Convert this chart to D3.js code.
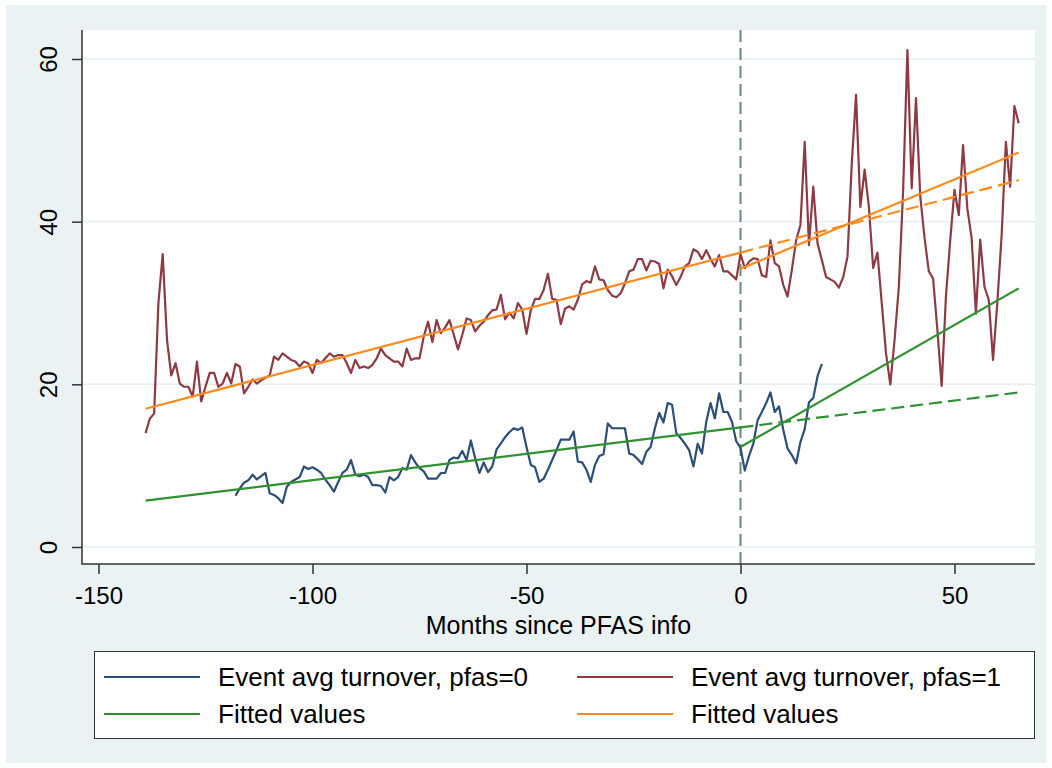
<!DOCTYPE html>
<html>
<head>
<meta charset="utf-8">
<script src="https://cdn.jsdelivr.net/npm/d3@7"></script>
<style>
body { margin: 0; background: #ffffff; }
text { font-family: "Liberation Sans", Arial, sans-serif; fill: #000000; }
</style>
</head>
<body>
<svg id="chart" width="1052" height="768"></svg>
<script>
"use strict";

//
//	Monthly event averages
//
var pfas0StartMonth = -118;
var turnoverPfas0 = [
	6.3, 7.2, 7.9, 8.2, 8.9, 8.3, 8.7, 9.1, 6.6, 6.4,
	6.0, 5.4, 7.4, 8.0, 8.3, 8.6, 9.9, 9.6, 9.8, 9.5,
	9.1, 8.3, 7.6, 6.8, 8.0, 9.1, 9.5, 10.7, 8.9, 8.7,
	8.9, 8.6, 7.6, 7.6, 7.5, 6.7, 8.6, 8.2, 8.6, 9.7,
	9.5, 11.3, 10.4, 9.7, 9.3, 8.4, 8.4, 8.4, 9.1, 9.1,
	10.7, 11.0, 10.9, 11.8, 10.7, 13.1, 10.9, 9.1, 10.4, 9.2,
	9.9, 12.0, 12.7, 13.5, 14.1, 14.6, 14.4, 14.7, 12.3, 10.1,
	9.8, 8.0, 8.4, 9.5, 10.7, 11.9, 13.2, 13.2, 13.2, 14.2,
	10.5, 10.4, 9.5, 8.0, 10.1, 11.2, 11.4, 15.2, 14.6, 14.6,
	14.6, 14.6, 11.5, 11.3, 10.8, 10.2, 11.7, 12.3, 14.6, 16.5,
	15.3, 17.7, 17.5, 14.0, 13.4, 12.7, 11.9, 9.9, 12.7, 11.5,
	15.4, 17.7, 15.8, 18.9, 16.6, 16.6, 15.4, 13.0, 12.2, 9.4,
	11.2, 12.7, 15.6, 16.6, 17.7, 19.0, 16.6, 17.3, 14.4, 12.1,
	11.3, 10.3, 12.9, 14.5, 17.8, 18.3, 21.0, 22.5
];

var pfas1StartMonth = -139;
var turnoverPfas1 = [
	14.0, 15.8, 16.4, 30.0, 36.0, 25.5, 21.1, 22.6, 20.1, 19.7,
	19.7, 18.5, 22.8, 17.9, 19.7, 21.4, 21.4, 19.7, 20.1, 21.4,
	20.1, 22.5, 22.2, 18.9, 19.7, 20.6, 20.1, 20.5, 20.8, 21.1,
	23.4, 23.0, 23.8, 23.4, 23.0,
	22.8, 22.2, 22.8, 22.6, 21.4, 23.0, 22.6, 23.2, 23.8, 23.4,
	23.6, 23.6, 22.6, 21.4, 23.0, 22.0, 22.2, 22.0, 22.4, 23.2,
	24.4, 23.6, 23.2, 22.8, 22.8, 22.2, 24.4, 23.0, 23.2, 23.2,
	25.9, 27.7, 25.2, 27.9,
	26.3, 27.0, 27.9, 26.1, 24.3, 26.1, 28.1, 27.9, 26.5, 27.2,
	27.7, 28.5, 29.1, 29.2, 31.0, 28.0, 28.8, 28.1, 30.0, 29.2,
	26.2, 29.1, 30.5, 30.5, 31.6, 33.6, 30.5, 30.4, 27.4, 29.3,
	29.6, 29.2, 30.4, 32.3, 32.7, 32.5, 34.5, 32.9, 32.8, 31.6,
	30.9, 30.7, 31.2, 32.4, 33.9, 34.1, 35.4, 35.4, 34.0, 35.2,
	35.1, 34.8, 31.8, 34.1, 33.3, 32.2, 33.2, 34.5, 34.9, 36.6,
	36.3, 35.4, 36.5, 35.4, 34.5, 35.9, 33.9, 33.9, 33.4, 32.9,
	36.0,
	34.3, 35.1, 35.5, 35.4, 33.4, 33.2, 37.7, 34.9, 34.5, 32.2,
	30.8, 34.1, 37.7, 39.6, 49.8, 37.1, 44.3, 37.3, 35.3, 33.2,
	32.9, 32.6, 31.9, 33.2, 35.7, 47.2, 55.6, 41.8, 46.4, 41.8,
	34.3, 36.2, 30.0, 23.8, 20.0, 25.5, 32.0, 43.9, 61.1, 44.1,
	55.2, 43.1, 38.0, 33.9, 33.0, 26.7, 19.8, 30.8, 37.7, 43.9,
	40.8, 49.4, 41.6, 38.0, 28.7, 37.8, 32.0, 30.4, 23.0, 30.0,
	38.2, 49.8, 44.3, 54.2, 52.1
];

//
//	Linear fits: end points before and after the event, and the pre-trend carried on
//
var fitPreMonths = [-139, 0];
var fitPostMonths = [0, 65];
var fitPfas0Pre = [5.7, 14.7];
var fitPfas0Trend = [14.7, 19.0];
var fitPfas0Post = [12.3, 31.8];
var fitPfas1Pre = [17.0, 36.2];
var fitPfas1Trend = [36.2, 45.1];
var fitPfas1Post = [34.2, 48.5];

var xTicks = [-150, -100, -50, 0, 50];
var yTicks = [0, 20, 40, 60];
var eventMonth = 0;
var xTitle = "Months since PFAS info";
var legendLabels = ["Event avg turnover, pfas=0", "Event avg turnover, pfas=1", "Fitted values", "Fitted values"];

var COLOR_PFAS0 = "#2b4f78";
var COLOR_PFAS1 = "#8e3a43";
var COLOR_FIT0 = "#2f9230";
var COLOR_FIT1 = "#ff8a1c";

var svg = d3.select("#chart");

var plot = {left: 82, right: 1035, top: 30, bottom: 564};

var x = d3.scaleLinear().domain([-150, 50]).range([98.5, 954.5]);
var y = d3.scaleLinear().domain([0, 60]).range([547, 59]);

//	plain hyphen for negatives, as in the original
function plainNumber(d){ return String(d); }

//	outer frame and plot region
svg.append("rect").attr("x", 6).attr("y", 5).attr("width", 1040).attr("height", 758).attr("fill", "#eaf2f3");
svg.append("rect").attr("x", plot.left).attr("y", plot.top)
	.attr("width", plot.right - plot.left).attr("height", plot.bottom - plot.top).attr("fill", "#ffffff");

//	horizontal grid
svg.append("g").selectAll("line").data(yTicks).enter().append("line")
	.attr("x1", plot.left).attr("x2", plot.right)
	.attr("y1", function(d){ return y(d); }).attr("y2", function(d){ return y(d); })
	.attr("stroke", "#e6efef").attr("stroke-width", 1.5);

//	event line
svg.append("line")
	.attr("x1", x(eventMonth)).attr("x2", x(eventMonth))
	.attr("y1", plot.top).attr("y2", plot.bottom)
	.attr("stroke", "#6a8a7d").attr("stroke-width", 2).attr("stroke-dasharray", "12,6");

//
//	series lines
//
function seriesLine(start){
	return d3.line()
		.x(function(d, i){ return x(start + i); })
		.y(function(d){ return y(d); });
}

function drawPath(values, start, color){
	svg.append("path")
		.attr("d", seriesLine(start)(values))
		.attr("fill", "none")
		.attr("stroke", color)
		.attr("stroke-width", 2.2)
		.attr("stroke-linejoin", "round");
}

function drawFit(months, values, color, dash){
	var pts = months.map(function(m, i){ return [m, values[i]]; });
	var p = svg.append("path")
		.attr("d", d3.line().x(function(d){ return x(d[0]); }).y(function(d){ return y(d[1]); })(pts))
		.attr("fill", "none")
		.attr("stroke", color)
		.attr("stroke-width", 2.2);
	if(dash){ p.attr("stroke-dasharray", dash); }
}

drawPath(turnoverPfas0, pfas0StartMonth, COLOR_PFAS0);
drawPath(turnoverPfas1, pfas1StartMonth, COLOR_PFAS1);

drawFit(fitPreMonths, fitPfas0Pre, COLOR_FIT0);
drawFit(fitPostMonths, fitPfas0Trend, COLOR_FIT0, "13,6");
drawFit(fitPostMonths, fitPfas0Post, COLOR_FIT0);
drawFit(fitPreMonths, fitPfas1Pre, COLOR_FIT1);
drawFit(fitPostMonths, fitPfas1Trend, COLOR_FIT1, "13,6");
drawFit(fitPostMonths, fitPfas1Post, COLOR_FIT1);

//
//	axes
//
var xAxis = svg.append("g")
	.attr("transform", "translate(0," + plot.bottom + ")")
	.call(d3.axisBottom(x).tickValues(xTicks).tickFormat(plainNumber)
		.tickSize(10).tickSizeOuter(0).tickPadding(13));
xAxis.select(".domain").remove();
xAxis.selectAll("line").attr("stroke", "#333333").attr("stroke-width", 1.5);
xAxis.selectAll("text").attr("font-size", 24).attr("fill", "#000");

var yAxis = svg.append("g")
	.attr("transform", "translate(" + plot.left + ",0)")
	.call(d3.axisLeft(y).tickValues(yTicks).tickFormat(plainNumber).tickSize(10).tickSizeOuter(0));
yAxis.select(".domain").remove();
yAxis.selectAll("line").attr("stroke", "#333333").attr("stroke-width", 1.5);
yAxis.selectAll("text")
	.attr("font-size", 24)
	.attr("fill", "#000")
	.attr("text-anchor", "middle")
	.attr("transform", "rotate(-90)")
	.attr("x", 0).attr("y", -25).attr("dy", 0);

svg.append("line").attr("x1", plot.left).attr("x2", plot.left)
	.attr("y1", plot.top).attr("y2", plot.bottom + 0.75)
	.attr("stroke", "#333333").attr("stroke-width", 1.5);
svg.append("line").attr("x1", plot.left).attr("x2", plot.right)
	.attr("y1", plot.bottom).attr("y2", plot.bottom)
	.attr("stroke", "#333333").attr("stroke-width", 1.5);

svg.append("text")
	.attr("x", (plot.left + plot.right) / 2).attr("y", 634)
	.attr("text-anchor", "middle").attr("font-size", 25)
	.text(xTitle);

//
//	legend
//
var legend = svg.append("g");
legend.append("rect").attr("x", 94.5).attr("y", 651.5).attr("width", 940).attr("height", 87)
	.attr("fill", "#ffffff").attr("stroke", "#333333").attr("stroke-width", 1);

var legendColors = [COLOR_PFAS0, COLOR_PFAS1, COLOR_FIT0, COLOR_FIT1];
var legendItems = legend.selectAll("g.item").data(legendLabels).enter().append("g")
	.attr("class", "item")
	.attr("transform", function(d, i){
		return "translate(" + (i % 2 == 0 ? 104 : 577) + "," + (i < 2 ? 677 : 714) + ")";
	});
legendItems.append("line").attr("x1", 0).attr("x2", 96).attr("y1", 0).attr("y2", 0)
	.attr("stroke", function(d, i){ return legendColors[i]; }).attr("stroke-width", 2.2);
legendItems.append("text").attr("x", 114).attr("y", 9).attr("font-size", 26)
	.text(function(d){ return d; });
</script>
</body>
</html>
